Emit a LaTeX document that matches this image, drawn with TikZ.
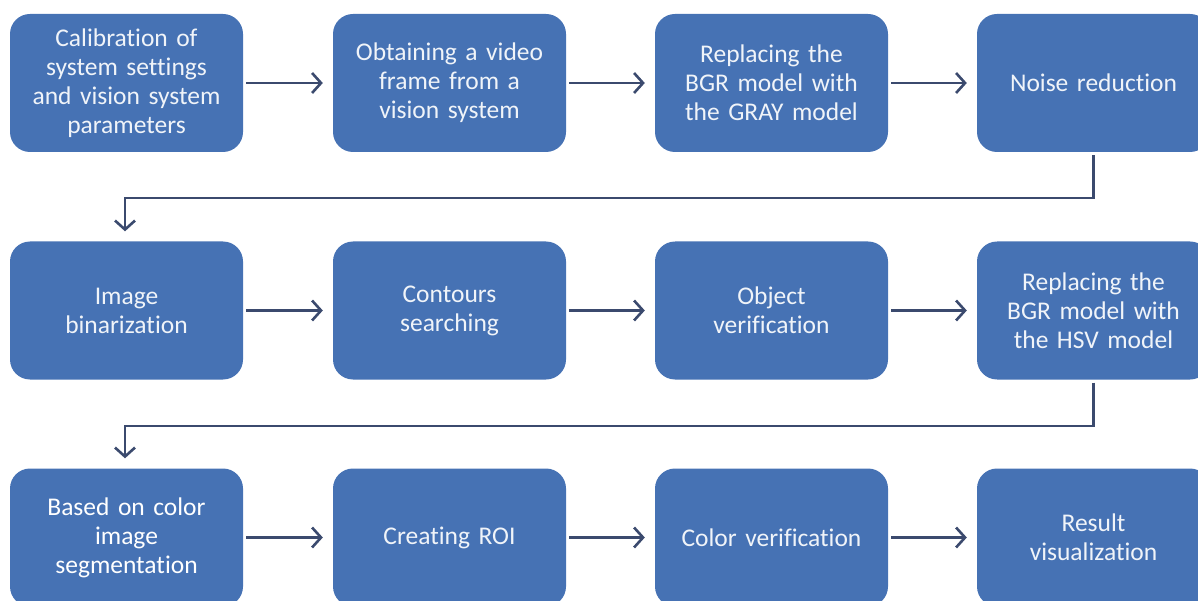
\documentclass[tikz,border=0pt]{standalone}
\usepackage{fontspec}
\setmainfont{Carlito}[Ligatures=NoCommon]
\usetikzlibrary{arrows.meta}
\definecolor{boxblue}{HTML}{4672B4}
\definecolor{linenavy}{HTML}{3B4A6E}
\begin{document}
\begin{tikzpicture}[x=1pt,y=-1pt,
  box/.style={fill=boxblue,draw=none,rounded corners=20pt,minimum width=233pt,minimum height=138pt,
    text width=225pt,align=center,text=white!92!boxblue,font=\fontsize{25.5}{29}\selectfont,inner sep=0pt},
  conn/.style={draw=linenavy,line width=2.6pt,-{Straight Barb[length=9pt,width=20pt,line width=2.6pt]}}]
\useasboundingbox (0,0) rectangle (1198,601);
\node[box] (a1) at (126.5,83) {Calibration of\\system settings\\and vision system\\parameters};
\node[box] (a2) at (449.5,83) {Obtaining a video\\frame from a\\vision system};
\node[box] (a3) at (771.5,83) {Replacing the\\BGR model with\\the GRAY model};
\node[box] (a4) at (1093.5,83) {Noise reduction};
\node[box] (b1) at (126.5,310.5) {Image\\binarization};
\node[box] (b2) at (449.5,310.5) {Contours\\searching};
\node[box] (b3) at (771.5,310.5) {Object\\verification};
\node[box] (b4) at (1093.5,310.5) {Replacing the\\BGR model with\\the HSV model};
\node[box,text=white] (c1) at (126.5,537.5) {Based on color\\image\\segmentation};
\node[box] (c2) at (449.5,537.5) {Creating ROI};
\node[box] (c3) at (771.5,537.5) {Color verification};
\node[box] (c4) at (1093.5,537.5) {Result\\visualization};
\foreach \p/\q in {a1/a2,a2/a3,a3/a4,b1/b2,b2/b3,b3/b4,c1/c2,c2/c3,c3/c4}
  \draw[conn] ([xshift=3pt]\p.east) -- ([xshift=-10pt]\q.west);
\coordinate (e1) at (1093.5,198);
\coordinate (e2) at (125,198);
\draw[conn] ([yshift=-3pt]a4.south) -- (e1) -- (e2) -- ([yshift=10pt]b1.north -| e2);
\coordinate (f1) at (1093.5,426);
\coordinate (f2) at (125,426);
\draw[conn] ([yshift=-3pt]b4.south) -- (f1) -- (f2) -- ([yshift=10pt]c1.north -| f2);
\end{tikzpicture}
\end{document}
